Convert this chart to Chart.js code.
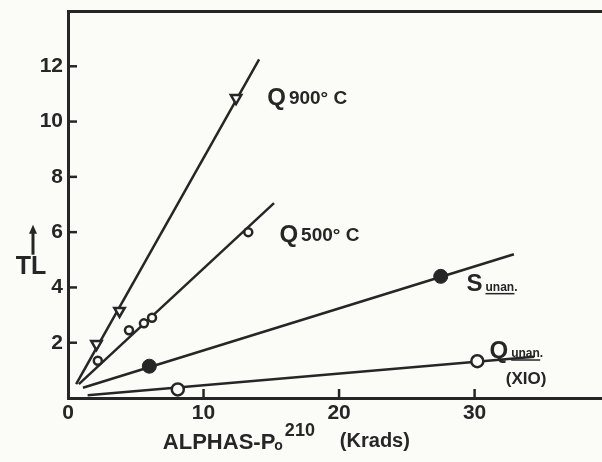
<!DOCTYPE html>
<html>
<head>
<meta charset="utf-8">
<script src="https://cdn.jsdelivr.net/npm/chart.js@4.4.0/dist/chart.umd.min.js"></script>
<style>
  html, body { margin: 0; padding: 0; background: #fbfbf8; overflow: hidden; }
  #wrap { width: 602px; height: 462px; }
  canvas { display: block; }
</style>
</head>
<body>
<div id="wrap"><canvas id="tlChart" width="602" height="462"></canvas></div>
<script>
// ---- values (x: krads, y: TL) ----
const q900X = [2.1, 3.8, 12.4];
const q900Y = [1.95, 3.15, 10.85];
const q500X = [2.2, 4.5, 5.6, 6.2, 13.3];
const q500Y = [1.35, 2.45, 2.7, 2.9, 6.0];
const sUnanX = [6.0, 27.5];
const sUnanY = [1.15, 4.4];
const qUnanX = [8.1, 30.2];
const qUnanY = [0.31, 1.33];

// hand drawn fit lines (end points)
const q900FitX = [0.6, 14.1];
const q900FitY = [0.5, 12.25];
const q500FitX = [0.8, 15.2];
const q500FitY = [0.5, 7.05];
const sUnanFitX = [1.1, 32.9];
const sUnanFitY = [0.37, 5.2];
const qUnanFitX = [1.45, 34.4];
const qUnanFitY = [0.1, 1.49];

const xTicks = [0, 10, 20, 30];
const yTicks = [2, 4, 6, 8, 10, 12];

const INK = '#262626';
const FONT = '"Liberation Sans", Arial, sans-serif';

const pts = (xs, ys) => xs.map((x, i) => ({ x: x, y: ys[i] }));

function fitLine(xs, ys) {
  return {
    data: pts(xs, ys), showLine: true, borderColor: INK, borderWidth: 2.5,
    pointRadius: 0, order: 2
  };
}

// series labels, anchored in data space
const seriesLabels = [
  { x: 14.7, y: 10.85, big: 'Q', small: '900° C' },
  { x: 15.6, y: 5.9, big: 'Q', small: '500° C' },
  { x: 29.4, y: 4.1, big: 'S', small: 'unan.', under: true },
  { x: 31.1, y: 1.7, big: 'Q', small: 'unan.', under: true }
];

function noPad(s) {
  s.paddingTop = 0; s.paddingBottom = 0; s.paddingLeft = 0; s.paddingRight = 0;
}

const inwardTicks = {
  id: 'inwardTicks',
  afterDraw(chart) {
    const { ctx, chartArea, scales } = chart;
    ctx.save();
    ctx.strokeStyle = INK;
    ctx.lineWidth = 2.5;
    yTicks.forEach(v => {
      const py = scales.y.getPixelForValue(v);
      ctx.beginPath();
      ctx.moveTo(chartArea.left, py);
      ctx.lineTo(chartArea.left + 9, py);
      ctx.stroke();
    });
    xTicks.slice(1).forEach(v => {
      const px = scales.x.getPixelForValue(v);
      ctx.beginPath();
      ctx.moveTo(px, chartArea.bottom);
      ctx.lineTo(px, chartArea.bottom - 9);
      ctx.stroke();
    });
    ctx.restore();
  }
};

const textLayer = {
  id: 'textLayer',
  afterDraw(chart) {
    const { ctx, scales, chartArea } = chart;
    ctx.save();
    ctx.fillStyle = INK;
    ctx.strokeStyle = INK;
    ctx.textBaseline = 'middle';
    ctx.textAlign = 'left';

    seriesLabels.forEach(l => {
      const px = scales.x.getPixelForValue(l.x);
      const py = scales.y.getPixelForValue(l.y);
      ctx.font = 'bold 24px ' + FONT;
      ctx.fillText(l.big, px, py);
      const w = ctx.measureText(l.big).width;
      if (l.under) {
        ctx.font = 'bold 12px ' + FONT;
        ctx.fillText(l.small, px + w + 3, py + 3);
        const sw = ctx.measureText(l.small).width;
        ctx.lineWidth = 1.5;
        ctx.beginPath();
        ctx.moveTo(px + w + 3, py + 9);
        ctx.lineTo(px + w + 3 + sw - 3, py + 9);
        ctx.stroke();
      } else {
        ctx.font = 'bold 19px ' + FONT;
        ctx.fillText(l.small, px + w + 3, py + 1);
      }
    });

    // (X10) note under Q unan.
    ctx.font = 'bold 17px ' + FONT;
    ctx.fillText('(XIO)', scales.x.getPixelForValue(32.3), scales.y.getPixelForValue(0.68));

    // y axis title with arrow
    const tx = 33;
    const ty = scales.y.getPixelForValue(4.75);
    ctx.font = 'bold 25px ' + FONT;
    ctx.textAlign = 'center';
    ctx.fillText('TL', tx - 2, ty);
    ctx.lineWidth = 3;
    ctx.beginPath();
    ctx.moveTo(tx, ty - 12);
    ctx.lineTo(tx, ty - 36);
    ctx.stroke();
    ctx.beginPath();
    ctx.moveTo(tx - 4, ty - 33);
    ctx.lineTo(tx, ty - 42);
    ctx.lineTo(tx + 4, ty - 33);
    ctx.closePath();
    ctx.fill();

    // x axis title
    const ax = scales.x.getPixelForValue(7.0);
    const ay = chartArea.bottom + 45;
    ctx.textAlign = 'left';
    ctx.font = 'bold 22px ' + FONT;
    ctx.fillText('ALPHAS-P', ax, ay);
    let off = ctx.measureText('ALPHAS-P').width;
    ctx.font = 'bold 14px ' + FONT;
    ctx.fillText('o', ax + off - 1, ay + 3);
    off += ctx.measureText('o').width;
    ctx.font = 'bold 18px ' + FONT;
    ctx.fillText('210', ax + off + 1, ay - 12);
    ctx.font = 'bold 20px ' + FONT;
    ctx.fillText('(Krads)', ax + off + 56, ay - 2);
    ctx.restore();
  }
};

new Chart(document.getElementById('tlChart'), {
  type: 'scatter',
  data: {
    datasets: [
      fitLine(q900FitX, q900FitY),
      fitLine(q500FitX, q500FitY),
      fitLine(sUnanFitX, sUnanFitY),
      fitLine(qUnanFitX, qUnanFitY),
      {
        label: 'Q 900° C', data: pts(q900X, q900Y), pointStyle: 'triangle', rotation: 180,
        pointRadius: 6, pointBorderWidth: 2.5, pointBorderColor: INK, pointBackgroundColor: '#fbfbf8', order: 1
      },
      {
        label: 'Q 500° C', data: pts(q500X, q500Y), pointStyle: 'circle',
        pointRadius: 4, pointBorderWidth: 2.5, pointBorderColor: INK, pointBackgroundColor: '#fbfbf8', order: 1
      },
      {
        label: 'S unan.', data: pts(sUnanX, sUnanY), pointStyle: 'circle',
        pointRadius: 7, pointBorderWidth: 1, pointBorderColor: INK, pointBackgroundColor: INK, order: 1
      },
      {
        label: 'Q unan.', data: pts(qUnanX, qUnanY), pointStyle: 'circle',
        pointRadius: 6, pointBorderWidth: 2.5, pointBorderColor: INK, pointBackgroundColor: '#fbfbf8', order: 1
      }
    ]
  },
  options: {
    responsive: false,
    animation: false,
    layout: { padding: 0, autoPadding: false },
    plugins: { legend: { display: false }, tooltip: { enabled: false } },
    scales: {
      x: {
        type: 'linear', position: 'bottom', min: 0, max: 39.4,
        afterFit: s => { s.height = 64; noPad(s); },
        afterBuildTicks: s => { s.ticks = xTicks.map(v => ({ value: v })); },
        border: { color: INK, width: 3 },
        grid: { drawOnChartArea: false, drawTicks: false },
        ticks: { color: INK, padding: 3, font: { family: FONT, size: 21, weight: 'bold' } }
      },
      xTop: {
        type: 'linear', position: 'top', min: 0, max: 39.4,
        afterFit: s => { s.height = 11; noPad(s); },
        afterBuildTicks: s => { s.ticks = []; },
        border: { color: INK, width: 3 },
        grid: { drawOnChartArea: false, drawTicks: false },
        ticks: { display: false }
      },
      y: {
        type: 'linear', min: 0, max: 14,
        afterFit: s => { s.width = 68; noPad(s); },
        afterBuildTicks: s => { s.ticks = yTicks.map(v => ({ value: v })); },
        border: { color: INK, width: 3 },
        grid: { drawOnChartArea: false, drawTicks: false },
        ticks: { color: INK, padding: 5, font: { family: FONT, size: 21, weight: 'bold' } }
      }
    }
  },
  plugins: [inwardTicks, textLayer]
});
</script>
</body>
</html>
